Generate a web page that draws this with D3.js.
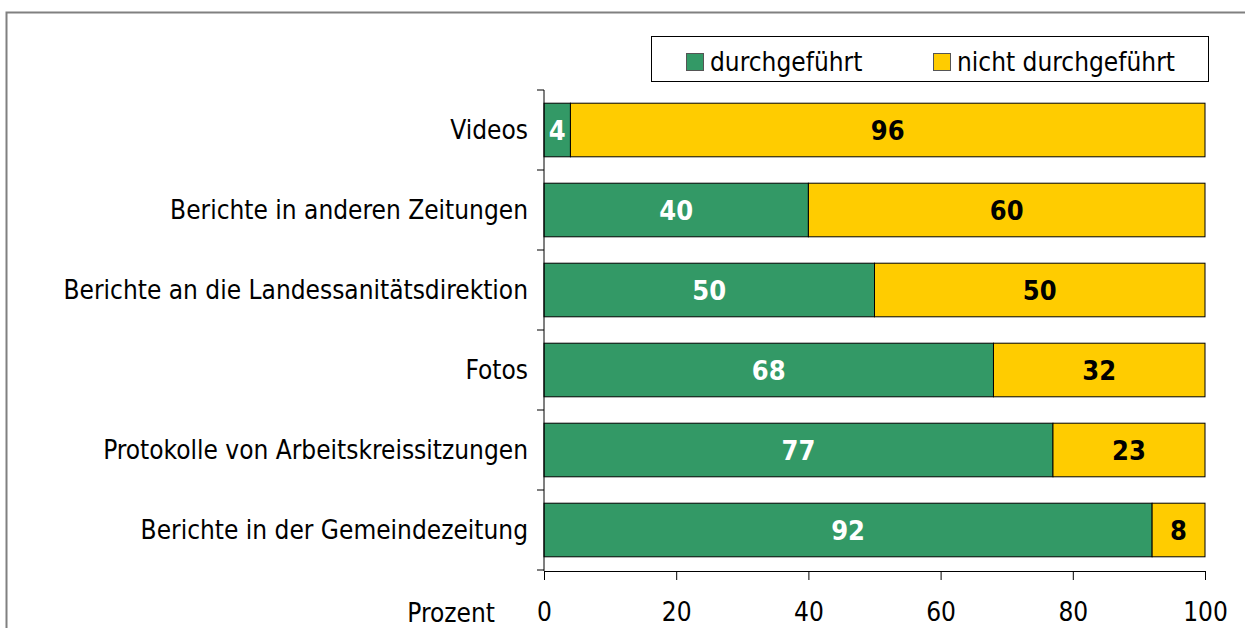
<!DOCTYPE html>
<html><head><meta charset="utf-8">
<script src="https://cdn.jsdelivr.net/npm/d3@7"></script>
<style>body{margin:0;background:#fff}svg{display:block}text{font-stretch:condensed}</style>
</head><body>
<svg id="c" width="1245" height="628"></svg>
<script>
const categories = ["Videos","Berichte in anderen Zeitungen","Berichte an die Landessanitätsdirektion","Fotos","Protokolle von Arbeitskreissitzungen","Berichte in der Gemeindezeitung"];
const durchgefuehrt = [4,40,50,68,77,92];
const nichtDurchgefuehrt = [96,60,50,32,23,8];
const seriesNames = ["durchgeführt","nicht durchgeführt"];
const seriesColors = ["#339966","#FFCC00"];
const labelColors = ["#ffffff","#000000"];
const xTicks = [0,20,40,60,80,100];
const axisTitle = "Prozent";

const font = "'DejaVu Sans Condensed', 'DejaVu Sans', sans-serif";
const svg = d3.select("#c");
// outer frame
svg.append("rect").attr("x",6.5).attr("y",12.5).attr("width",1300).attr("height",700)
  .attr("fill","none").attr("stroke","#808080").attr("stroke-width",2);

const x = d3.scaleLinear().domain([0,100]).range([544,1205]);
const y = d3.scaleBand().domain(categories).range([90,570]).paddingInner(0.33).paddingOuter(0.165);

const stacked = categories.map((c,i)=>{
  const vals=[durchgefuehrt[i],nichtDurchgefuehrt[i]];
  let acc=0;
  return vals.map((v,j)=>{const s={cat:c,j,v,x0:acc,x1:acc+v};acc+=v;return s;});
}).flat();

svg.append("g").selectAll("rect").data(stacked).join("rect")
  .attr("x",d=>x(d.x0)).attr("y",d=>y(d.cat))
  .attr("width",d=>x(d.x1)-x(d.x0)).attr("height",y.bandwidth())
  .attr("fill",d=>seriesColors[d.j]).attr("stroke","#000").attr("stroke-width",1);

svg.append("g").selectAll("text").data(stacked).join("text")
  .attr("x",d=>(x(d.x0)+x(d.x1))/2).attr("y",d=>y(d.cat)+y.bandwidth()/2)
  .attr("dy","0.36em").attr("text-anchor","middle")
  .attr("font-family",font).attr("font-weight","bold").attr("font-size",27)
  .attr("fill",d=>labelColors[d.j]).text(d=>d.v);

// x axis
const xAxis = svg.append("g").attr("transform","translate(0,571)")
  .call(d3.axisBottom(x).tickValues(xTicks).tickSize(9).tickPadding(23));
xAxis.select(".domain").attr("stroke","#000");
xAxis.selectAll("line").attr("stroke","#000");
xAxis.selectAll("text").attr("font-family",font).attr("font-size",26).attr("fill","#000");
svg.append("text").attr("x",495).attr("y",622).attr("text-anchor","end")
  .attr("font-family",font).attr("font-size",26).text(axisTitle);

// y axis
const yAxisG = svg.append("g");
yAxisG.append("line").attr("x1",544).attr("x2",544).attr("y1",90).attr("y2",571).attr("stroke","#000");
yAxisG.selectAll("line.t").data(d3.range(categories.length+1)).join("line").attr("class","t")
  .attr("x1",537).attr("x2",544)
  .attr("y1",i=>y.range()[0]+i*(y.range()[1]-y.range()[0])/categories.length)
  .attr("y2",i=>y.range()[0]+i*(y.range()[1]-y.range()[0])/categories.length)
  .attr("stroke","#000");
svg.append("g").selectAll("text").data(categories).join("text")
  .attr("x",528).attr("y",d=>y(d)+y.bandwidth()/2).attr("dy","0.35em")
  .attr("text-anchor","end").attr("font-family",font).attr("font-size",26).attr("fill","#000").text(d=>d);

// legend
const lg = svg.append("g");
lg.append("rect").attr("x",651.5).attr("y",36.5).attr("width",557).attr("height",45)
  .attr("fill","#fff").attr("stroke","#000");
const legX=[686,933];
seriesNames.forEach((n,i)=>{
  lg.append("rect").attr("x",legX[i]+0.5).attr("y",53.5).attr("width",17).attr("height",17)
    .attr("fill",seriesColors[i]).attr("stroke","#555");
  lg.append("text").attr("x",legX[i]+24).attr("y",62).attr("dy","0.35em")
    .attr("font-family",font).attr("font-size",26).text(n);
});
</script>
</body></html>
